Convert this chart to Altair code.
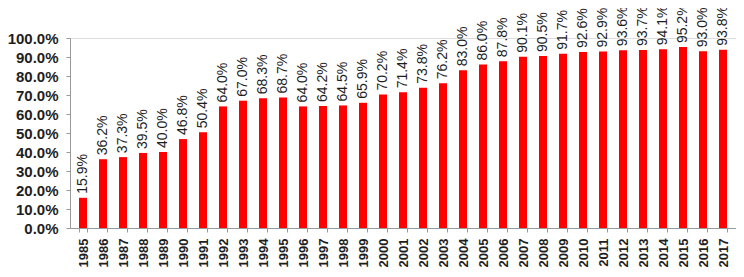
import altair as alt
import pandas as pd

years = [str(y) for y in range(1985, 2019)]
values = [15.9, 36.2, 37.3, 39.5, 40.0, 46.8, 50.4, 64.0, 67.0, 68.3, 68.7,
          64.0, 64.2, 64.5, 65.9, 70.2, 71.4, 73.8, 76.2, 83.0, 86.0, 87.8,
          90.1, 90.5, 91.7, 92.6, 92.9, 93.6, 93.7, 94.1, 95.2, 93.0, 93.8, 94.6]
y_ticks = [0, 10, 20, 30, 40, 50, 60, 70, 80, 90, 100]

df = pd.DataFrame({"year": years, "value": values})

FONT = "Liberation Sans"
AX = "#999999"
TXT = "#1e1e1e"

x = alt.X("year:O", sort=None, title=None,
          scale=alt.Scale(paddingInner=0.6, paddingOuter=0.45, range=[0, 686]),
          axis=alt.Axis(labelAngle=270, labelFont=FONT, labelFontSize=13,
                        labelFontWeight="bold", labelColor=TXT,
                        tickBand="extent", tickSize=4, tickColor=AX,
                        domainColor=AX, labelPadding=6))
y = alt.Y("value:Q", title=None,
          scale=alt.Scale(domain=[0, 100], nice=False, zero=True),
          axis=alt.Axis(values=y_ticks, grid=False, labelExpr="format(datum.value, '.1f') + '%'",
                        labelFont=FONT, labelFontSize=15, labelFontWeight="bold",
                        labelColor=TXT, tickSize=4, tickColor=AX, domainColor=AX,
                        labelPadding=8))

base = alt.Chart(df).encode(x=x, y=y)
bars = base.mark_bar(color="#ff0000")
labels = base.transform_calculate(
    label="format(datum.value, '.1f') + '%'"
).mark_text(angle=270, align="left", baseline="middle", dx=4,
            font=FONT, fontSize=14, color=TXT).encode(text="label:N")

chart = (bars + labels).properties(
    width=666, height=190,
    autosize=alt.AutoSizeParams(type="none"),
    padding={"left": 62, "top": 30, "right": 0, "bottom": 41},
).configure_view(stroke=None).configure(background="white")

chart.save("out.html", embed_options={"renderer": "svg", "actions": False})
